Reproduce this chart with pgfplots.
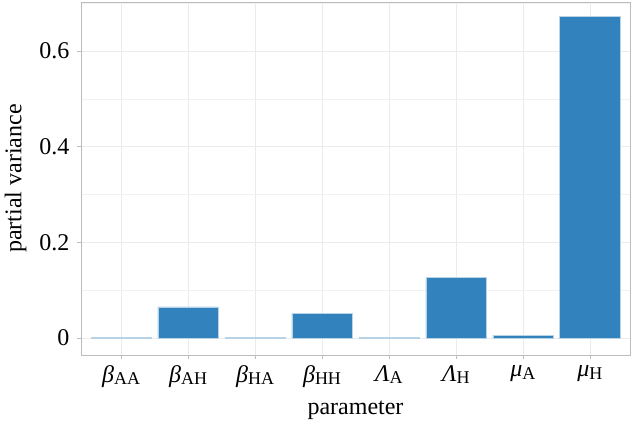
\documentclass[border=0pt]{standalone}
\usepackage{fontspec}
\setmainfont{Liberation Serif}
\usepackage{pgfplots}
\pgfplotsset{compat=1.18}

\definecolor{barblue}{HTML}{3182BD}
\definecolor{gridgray}{HTML}{EBEBEB}
\definecolor{framegray}{HTML}{BDBDBD}

% Greek letter with an upright subscript, as in the reference
\newcommand{\sub}[1]{\raisebox{-2.5pt}{\fontsize{18}{18}\selectfont #1}}

\begin{document}
\begin{tikzpicture}
\begin{axis}[
    name=ax,
    scale only axis,
    width=549pt,
    height=353pt,
    xmin=0.4, xmax=8.6,
    ymin=-0.0355, ymax=0.7025,
    ybar,
    bar width=0.9,
    xtick={1,...,8},
    xticklabels={\textit{β}\sub{AA},\textit{β}\sub{AH},\textit{β}\sub{HA},\textit{β}\sub{HH},
                 \textit{Λ}\sub{A},\textit{Λ}\sub{H},\textit{μ}\sub{A},\textit{μ}\sub{H}},
    ytick={0,0.2,0.4,0.6},
    yticklabels={0,0.2,0.4,0.6},
    minor ytick={0.1,0.3,0.5,0.7},
    /pgf/number format/assume math mode=true,
    grid=both,
    major grid style={gridgray, line width=0.6pt},
    minor grid style={gridgray!70, line width=0.4pt},
    axis line style={framegray, line width=0.6pt},
    tick style={framegray, line width=0.6pt},
    tick align=outside,
    major tick length=4pt,
    minor tick length=0pt,
    xtick pos=left, ytick pos=left,
    ticklabel style={font=\fontsize{24}{28}\selectfont, black},
    yticklabel style={xshift=-4pt},
    xticklabel style={yshift=-3pt},
    label style={font=\fontsize{24}{28}\selectfont, black},
    xlabel={parameter},
    ylabel={partial variance},
    xlabel style={yshift=-7pt},
    ylabel style={yshift=6pt},
]
\addplot[fill=barblue, draw=barblue!35!white, line width=0.5pt] coordinates {
    (1,0.001) (2,0.065) (3,0.001) (4,0.052) (5,0.001) (6,0.127) (7,0.0055) (8,0.673)
};
\end{axis}
\pgfresetboundingbox
\path (ax.south west) +(-81pt,-70pt) (ax.north east) +(2pt,2pt);
\end{tikzpicture}
\end{document}
